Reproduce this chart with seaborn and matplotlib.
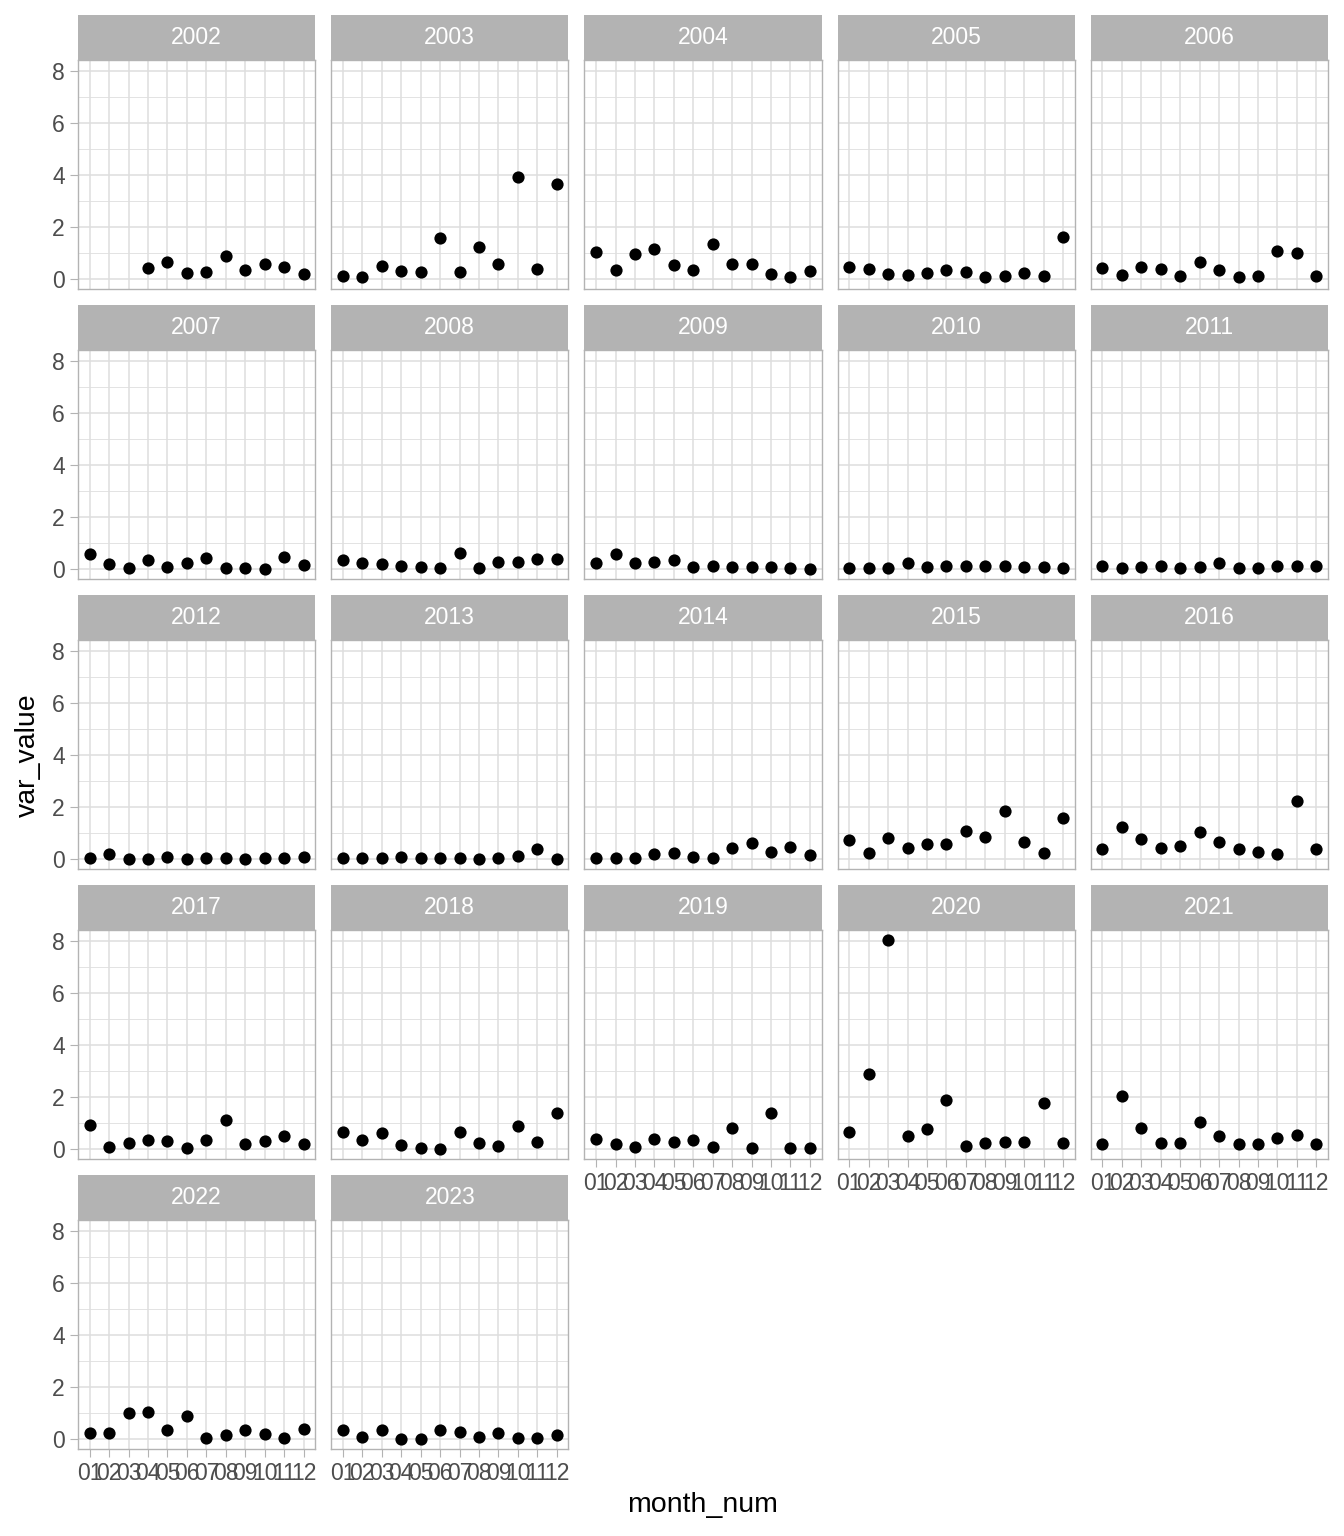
import matplotlib
matplotlib.use("Agg")
import matplotlib.pyplot as plt
import numpy as np
import pandas as pd
import seaborn as sns
from matplotlib.patches import Rectangle

months = ["01", "02", "03", "04", "05", "06", "07", "08", "09", "10", "11", "12"]
years = [str(y) for y in range(2002, 2024)]

# monthly values per year (NaN = no point)
v2002 = [np.nan, np.nan, np.nan, 0.41, 0.67, 0.23, 0.26, 0.87, 0.36, 0.58, 0.45, 0.19]
v2003 = [0.10, 0.08, 0.49, 0.29, 0.26, 1.59, 0.28, 1.22, 0.56, 3.94, 0.38, 3.64]
v2004 = [1.05, 0.35, 0.96, 1.15, 0.54, 0.36, 1.35, 0.58, 0.59, 0.19, 0.09, 0.32]
v2005 = [0.47, 0.37, 0.19, 0.14, 0.23, 0.33, 0.28, 0.09, 0.13, 0.23, 0.10, 1.60]
v2006 = [0.41, 0.15, 0.47, 0.40, 0.13, 0.64, 0.33, 0.09, 0.10, 1.09, 0.99, 0.10]
v2007 = [0.59, 0.19, 0.03, 0.36, 0.08, 0.23, 0.42, 0.04, 0.04, 0.01, 0.46, 0.14]
v2008 = [0.36, 0.21, 0.17, 0.13, 0.09, 0.04, 0.63, 0.05, 0.28, 0.27, 0.38, 0.38]
v2009 = [0.24, 0.59, 0.23, 0.28, 0.35, 0.08, 0.13, 0.06, 0.09, 0.08, 0.05, 0.01]
v2010 = [0.05, 0.05, 0.03, 0.21, 0.06, 0.12, 0.13, 0.13, 0.10, 0.08, 0.09, 0.03]
v2011 = [0.13, 0.03, 0.09, 0.10, 0.05, 0.08, 0.24, 0.04, 0.04, 0.12, 0.10, 0.12]
v2012 = [0.04, 0.18, 0.01, 0.01, 0.06, 0.01, 0.04, 0.03, 0.01, 0.03, 0.03, 0.06]
v2013 = [0.03, 0.03, 0.05, 0.06, 0.05, 0.03, 0.04, 0.01, 0.05, 0.10, 0.40, 0.01]
v2014 = [0.04, 0.04, 0.03, 0.17, 0.21, 0.06, 0.05, 0.42, 0.63, 0.28, 0.45, 0.14]
v2015 = [0.71, 0.23, 0.82, 0.41, 0.56, 0.56, 1.06, 0.83, 1.83, 0.67, 0.21, 1.59]
v2016 = [0.40, 1.23, 0.76, 0.41, 0.50, 1.04, 0.65, 0.37, 0.26, 0.18, 2.22, 0.40]
v2017 = [0.94, 0.09, 0.21, 0.33, 0.31, 0.04, 0.33, 1.12, 0.18, 0.32, 0.50, 0.19]
v2018 = [0.64, 0.33, 0.62, 0.15, 0.05, 0.01, 0.67, 0.21, 0.12, 0.90, 0.28, 1.38]
v2019 = [0.40, 0.19, 0.08, 0.40, 0.26, 0.35, 0.06, 0.82, 0.05, 1.38, 0.05, 0.03]
v2020 = [0.66, 2.89, 8.04, 0.51, 0.75, 1.89, 0.10, 0.22, 0.28, 0.27, 1.77, 0.24]
v2021 = [0.18, 2.05, 0.82, 0.24, 0.24, 1.04, 0.51, 0.18, 0.17, 0.42, 0.54, 0.18]
v2022 = [0.23, 0.24, 1.01, 1.04, 0.33, 0.87, 0.04, 0.15, 0.35, 0.19, 0.04, 0.38]
v2023 = [0.36, 0.06, 0.36, 0.01, 0.01, 0.33, 0.26, 0.08, 0.22, 0.04, 0.04, 0.14]

all_vals = [v2002, v2003, v2004, v2005, v2006, v2007, v2008, v2009, v2010, v2011, v2012,
            v2013, v2014, v2015, v2016, v2017, v2018, v2019, v2020, v2021, v2022, v2023]

rows = []
for yr, vals in zip(years, all_vals):
    for m, v in zip(months, vals):
        rows.append({"year": yr, "month_num": m, "var_value": v})
df = pd.DataFrame(rows).dropna()

plt.rcParams["font.family"] = ["Liberation Sans", "DejaVu Sans"]

W, H = 1344, 1536
g = sns.FacetGrid(df, col="year", col_wrap=5, col_order=years, sharex=True, sharey=True)
g.map_dataframe(sns.stripplot, x="month_num", y="var_value", order=months, jitter=False,
                color="black", size=8.8, linewidth=0)
g.figure.set_size_inches(W / 100, H / 100)
g.set_axis_labels("", "")
g.set_titles("")

panel_h = 229
strip_h = 45
n = len(years)
for i, ax in enumerate(g.axes.flat):
    col = i % 5
    ax.set_xlim(-0.6, 11.6)
    ax.set_ylim(-0.39, 8.44)
    ax.set_yticks([0, 2, 4, 6, 8])
    ax.set_yticks([1, 3, 5, 7], minor=True)
    ax.set_axisbelow(True)
    ax.grid(True, which="major", color="#DEDEDE", linewidth=1.1)
    ax.grid(True, which="minor", axis="y", color="#DEDEDE", linewidth=0.6)
    ax.xaxis.grid(True, which="major", color="#DEDEDE", linewidth=1.1)
    for sp in ax.spines.values():
        sp.set_visible(True)
        sp.set_color("#B3B3B3")
        sp.set_linewidth(1.0)
    left = col == 0
    bottom = i + 5 >= n
    ax.tick_params(axis="y", which="major", labelleft=left, length=5.5 if left else 0,
                   color="#B3B3B3", labelcolor="#4D4D4D", labelsize=16.5, pad=4)
    ax.tick_params(axis="y", which="minor", length=0)
    ax.tick_params(axis="x", which="major", labelbottom=bottom, length=5.5 if bottom else 0,
                   color="#B3B3B3", labelcolor="#4D4D4D", labelsize=16.5, pad=4)
    ax.add_patch(Rectangle((0, 1), 1, strip_h / panel_h, transform=ax.transAxes,
                           clip_on=False, facecolor="#B3B3B3", edgecolor="none"))
    ax.text(0.5, 1 + strip_h / panel_h / 2, years[i], transform=ax.transAxes,
            ha="center", va="center", color="white", fontsize=16.5)

g.figure.subplots_adjust(left=78 / W, right=1328 / W, top=1 - 60 / H, bottom=1 - 1449 / H,
                         wspace=16 / 237, hspace=61 / 229)

g.figure.text(28 / W, 1 - 755 / H, "var_value", rotation=90, ha="center", va="center",
              fontsize=20.5, color="black")
g.figure.text(703 / W, 1 - 1505 / H, "month_num", ha="center", va="center",
              fontsize=20.5, color="black")

g.figure.savefig("out.png", dpi=100)
